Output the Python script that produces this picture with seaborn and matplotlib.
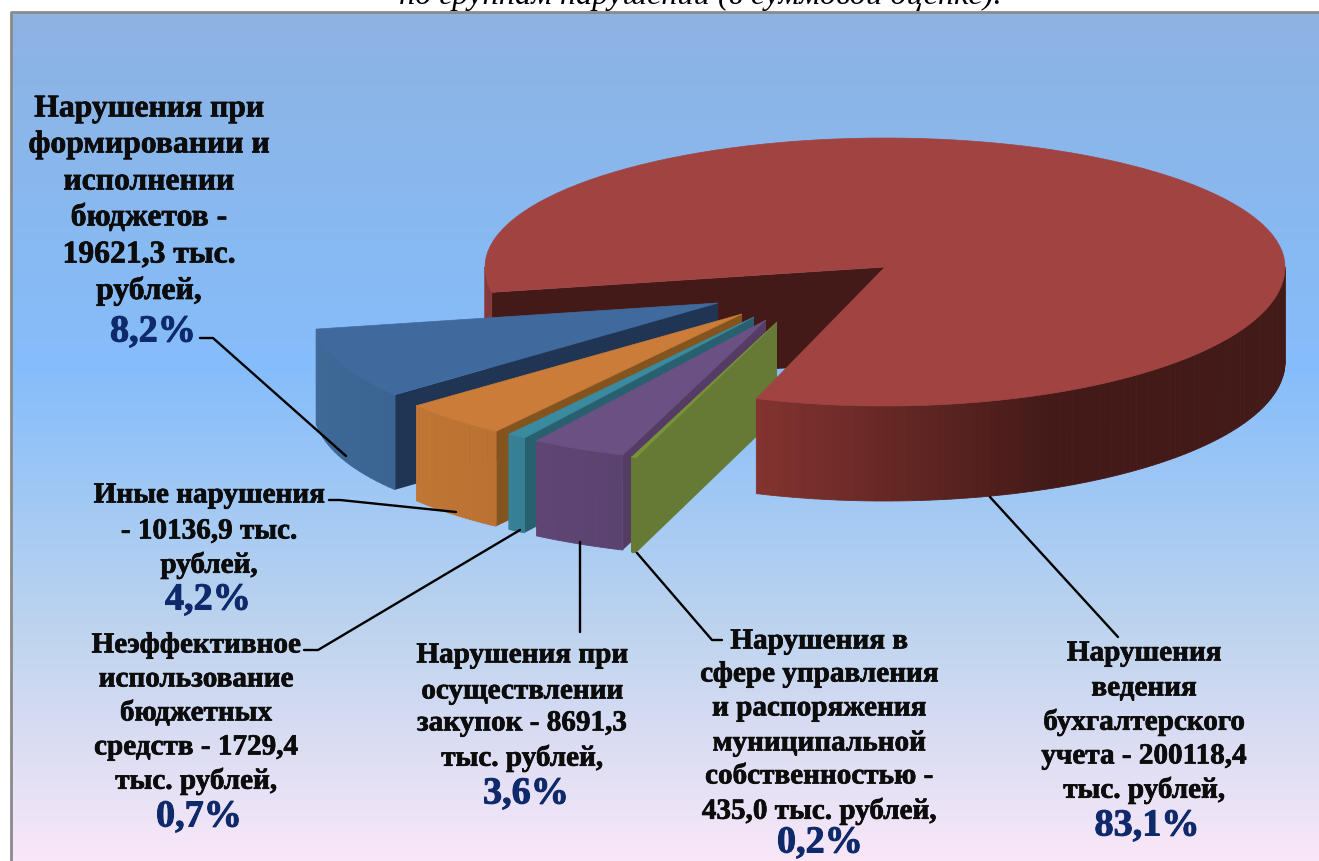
import numpy as np
import pandas as pd
import matplotlib
matplotlib.use('Agg')
import matplotlib.pyplot as plt
import matplotlib.patheffects as pe
import seaborn as sns
from matplotlib.colors import LinearSegmentedColormap

# Data
categories = ['Нарушения ведения бухгалтерского учета',
              'Нарушения при формировании и исполнении бюджетов',
              'Иные нарушения',
              'Неэффективное использование бюджетных средств',
              'Нарушения при осуществлении закупок',
              'Нарушения в сфере управления и распоряжения муниципальной собственностью']
amounts = [200118.4, 19621.3, 10136.9, 1729.4, 8691.3, 435.0]
percents = [83.1, 8.2, 4.2, 0.7, 3.6, 0.2]
label_lines = [
    ['Нарушения', 'ведения', 'бухгалтерского', 'учета - 200118,4', 'тыс. рублей,'],
    ['Нарушения при', 'формировании и', 'исполнении', 'бюджетов -', '19621,3 тыс.', 'рублей,'],
    ['Иные нарушения', '- 10136,9 тыс.', 'рублей,'],
    ['Неэффективное', 'использование', 'бюджетных', 'средств - 1729,4', 'тыс. рублей,'],
    ['Нарушения при', 'осуществлении', 'закупок - 8691,3', 'тыс. рублей,'],
    ['Нарушения в', 'сфере управления', 'и распоряжения', 'муниципальной', 'собственностью -', '435,0 тыс. рублей,'],
]
title = 'по группам нарушений (в суммовой оценке).'

# Layout, in figure pixels
CX, CY = 885, 267
RX, RY_BACK, RY_FRONT = 400, 129, 139
DEPTH = 95
START = 169.5
offsets = [(-167, 36), (-143, 47), (-131, 50), (-119, 53), (-108, 55)]
scale_x = [1.0, 1.008, 1.005, 1.005, 1.02]
scale_y = 1.03
label_x = [1144, 149, 209, 196, 522, 819]
label_y = [[653, 688, 722, 756, 790], [109, 145, 182, 218, 255, 291], [495, 531, 565],
           [645, 679, 713, 747, 781], [655, 691, 723, 758], [641, 674, 708, 743, 776, 811]]
label_size = [21, 22.8, 21, 21, 21, 21]
pct_pos = [(1147, 826), (153, 332), (208, 600), (199, 817), (526, 794), (820, 843)]
leaders = [
    ([990, 1118], [497, 637]),
    ([200, 213, 346], [338, 338, 456]),
    ([329, 340, 456], [500, 500, 512]),
    ([304, 318, 520], [650, 650, 530]),
    ([580, 580], [542, 632]),
    ([637, 712, 722], [553, 640, 640]),
]
# top, front side start, front side end, cut face
colors = [
    ('#a14341', '#82332f', '#431a18', '#431a18'),
    ('#406a9e', '#3f6998', '#3b6492', '#1f3553'),
    ('#cb7c38', '#c07634', '#ba7233', '#84541f'),
    ('#3a8aa0', '#388095', '#367e93', '#28606f'),
    ('#6b5083', '#5f4574', '#5b4370', '#553c65'),
    ('#7a9238', '#647a35', '#647a35', '#647a35'),
]

sns.set_style('white')
plt.rcParams['font.family'] = ['Liberation Serif', 'DejaVu Serif']


def rim(theta, ox=CX, oy=CY, sx=None, sy=1.0):
    t = np.radians(theta)
    ry = np.where(np.sin(t) > 0, RY_FRONT, RY_BACK)
    # near part of an exploded slice looks a bit wider
    k = 1.0 if sx is None else sx * (1.01 + 0.065 * np.sin(t))
    return ox + k * RX * np.cos(t), oy + sy * ry * np.sin(t)


def draw_side(ax, t_from, t_to, pal, place, z):
    ts = np.linspace(t_from, t_to, len(pal) + 1)
    for i, col in enumerate(pal):
        x, y = rim(ts[i:i + 2], *place)
        ax.fill([x[0], x[1], x[1], x[0]], [y[0], y[1], y[1] + DEPTH, y[0] + DEPTH],
                color=col, lw=0.6, zorder=z)


def wedge_top(t_from, t_to, ox, oy, sx=None, sy=1.0):
    x, y = rim(np.linspace(t_from, t_to, 120), ox, oy, sx, sy)
    return np.r_[ox, x], np.r_[oy, y]


fig = plt.figure(figsize=(13.19, 8.61), dpi=100)
ax = fig.add_axes([0, 0, 1, 1])

# Background panel
bg = LinearSegmentedColormap.from_list('bg', [(0, '#8db3e2'), (0.42, '#85bdfb'), (0.72, '#bcd3ee'), (1, '#f9e7f8')])
ax.imshow(np.linspace(0, 1, 256).reshape(-1, 1), cmap=bg, aspect='auto', extent=(11, 1319, 861, 12), zorder=0)
ax.plot([11, 11, 1319], [861, 12, 12], color='#8a8a8a', lw=2, zorder=1)

sweep = 360 * np.array(amounts) / np.sum(amounts)
edges = START - np.r_[0, np.cumsum(sweep[1:])]

# Main slice, the part behind the small ones
x0, y0 = rim(START)
ax.fill([x0, CX, CX, x0], [y0, CY, CY + DEPTH, y0 + DEPTH], color=colors[0][3], lw=0, zorder=2)
draw_side(ax, 180, START, ['#87383a'] * 6, (CX, CY), 2)

# Small slices, far to near
for i in range(1, 6):
    ox, oy = offsets[i - 1]
    ox, oy = CX + ox, CY + oy
    sx = scale_x[i - 1]
    z = 3 + i
    top, s0, s1, cut = colors[i]
    t0, t1 = edges[i - 1], edges[i]
    xe, ye = rim(t1, ox, oy, sx, scale_y)
    ax.fill([xe, ox, ox, xe], [ye, oy, oy + DEPTH, ye + DEPTH], color=cut, lw=0, zorder=z)
    draw_side(ax, t0, t1, sns.blend_palette([s0, s1], 20), (ox, oy, sx, scale_y), z)
    xt, yt = wedge_top(t0, t1, ox, oy, sx, scale_y)
    ax.fill(xt, yt, color=top, lw=0.5, zorder=z)

# Main slice in front
end = edges[-1]
n_fade = 40
fade = sns.blend_palette([colors[0][1], colors[0][2]], n_fade) + [colors[0][2]] * 60
draw_side(ax, end, 0, fade, (CX, CY), 10)
xt, yt = wedge_top(end, end - sweep[0], CX, CY)
ax.fill(xt, yt, color=colors[0][0], lw=0.5, zorder=11)

# Leader lines
for lx, ly in leaders:
    leader = pd.DataFrame({'x': lx, 'y': ly})
    sns.lineplot(data=leader, x='x', y='y', sort=False, estimator=None, color='black', lw=1.7, zorder=12, ax=ax)

# Labels
for i, lines in enumerate(label_lines):
    for line, ly in zip(lines, label_y[i]):
        ax.text(label_x[i], ly, line, ha='center', va='center', fontsize=label_size[i], fontweight='bold',
                color='#0c0c0c', zorder=13, path_effects=[pe.withStroke(linewidth=0.5, foreground='#0c0c0c')])
    px, py = pct_pos[i]
    ax.text(px, py, f'{percents[i]:.1f}%'.replace('.', ','), ha='center', va='center', fontsize=27.5,
            fontweight='bold', color='#0f2a6b', zorder=13,
            path_effects=[pe.withStroke(linewidth=0.7, foreground='#0f2a6b')])

ax.text(700, 4, title, ha='center', va='baseline', fontsize=23.3, fontstyle='italic', color='black', zorder=13)

ax.set_xlim(0, 1319)
ax.set_ylim(861, 0)
ax.set_xlabel('')
ax.set_ylabel('')
ax.axis('off')
fig.savefig('out.png', dpi=100)
